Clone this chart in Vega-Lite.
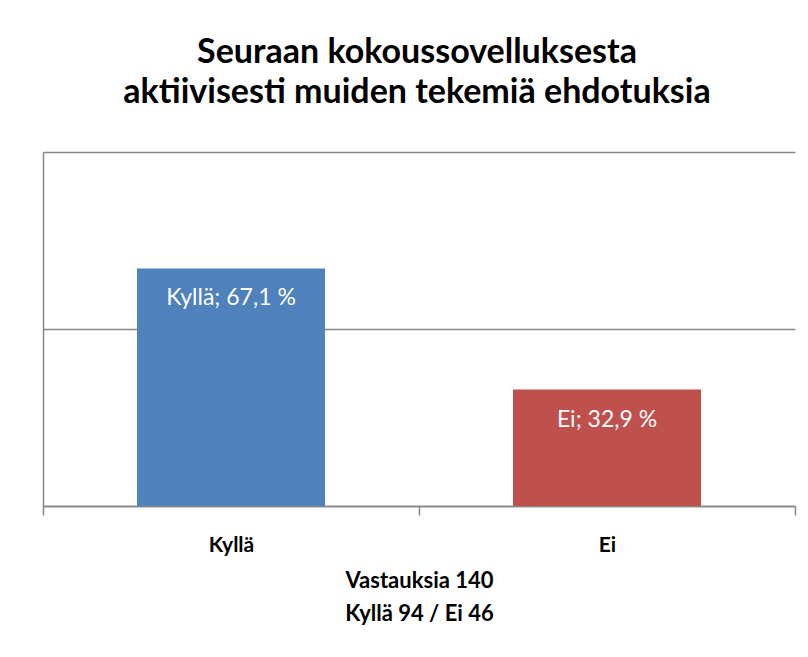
{
  "$schema": "https://vega.github.io/schema/vega-lite/v6.json",
  "width": 752,
  "height": 354,
  "autosize": {"type": "none"},
  "padding": {"left": 43, "top": 152, "right": 13, "bottom": 151},
  "background": "white",
  "title": {
    "text": ["Seuraan kokoussovelluksesta", "aktiivisesti muiden tekemiä ehdotuksia"],
    "anchor": "middle",
    "font": "Lato",
    "fontSize": 34,
    "fontWeight": "bold",
    "lineHeight": 40,
    "color": "#000000",
    "offset": 42,
    "dx": -2
  },
  "data": {
    "values": [
      {"vastaus": "Kyllä", "prosentti": 67.1, "label": "Kyllä; 67,1 %"},
      {"vastaus": "Ei", "prosentti": 32.9, "label": "Ei; 32,9 %"}
    ]
  },
  "encoding": {
    "x": {
      "field": "vastaus",
      "type": "nominal",
      "sort": ["Kyllä", "Ei"],
      "scale": {"paddingInner": 0, "paddingOuter": 0},
      "axis": {
        "title": ["Vastauksia 140", "Kyllä 94 / Ei 46"],
        "titleFont": "Lato",
        "titleFontSize": 22,
        "titleFontWeight": "bold",
        "titleColor": "#000000",
        "titleLineHeight": 33,
        "titlePadding": 15,
        "labelAngle": 0,
        "labelFont": "Lato",
        "labelFontSize": 21,
        "labelFontWeight": "bold",
        "labelColor": "#000000",
        "labelPadding": 19,
        "tickBand": "extent",
        "tickSize": 9,
        "tickColor": "#868686",
        "tickWidth": 1.5,
        "domainColor": "#868686",
        "domainWidth": 1.5
      }
    },
    "y": {
      "field": "prosentti",
      "type": "quantitative",
      "scale": {"domain": [0, 100], "nice": false},
      "axis": {
        "title": null,
        "labels": false,
        "ticks": false,
        "values": [0, 50, 100],
        "grid": true,
        "gridColor": "#868686",
        "gridWidth": 1.5,
        "domainColor": "#868686",
        "domainWidth": 1.5
      }
    }
  },
  "layer": [
    {
      "mark": {"type": "bar", "width": {"band": 0.5}},
      "encoding": {
        "color": {
          "field": "vastaus",
          "type": "nominal",
          "scale": {"domain": ["Kyllä", "Ei"], "range": ["#4F81BD", "#C0504D"]},
          "legend": null
        }
      }
    },
    {
      "mark": {"type": "text", "baseline": "alphabetic", "dy": 37, "color": "#FFFFFF", "font": "Lato", "fontSize": 23},
      "encoding": {
        "text": {"field": "label"}
      }
    }
  ],
  "config": {
    "view": {"stroke": null}
  }
}
